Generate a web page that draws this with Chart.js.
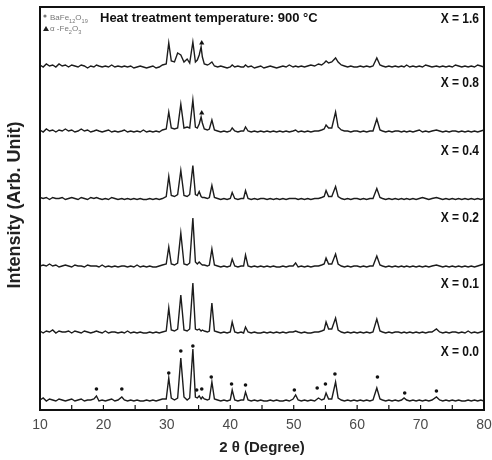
<!DOCTYPE html>
<html>
<head>
<meta charset="utf-8">
<script src="https://cdn.jsdelivr.net/npm/chart.js@4"></script>
<style>
  html, body { margin: 0; padding: 0; background: #fff; }
  #wrap { width: 492px; height: 460px; }
</style>
</head>
<body>
<div id="wrap"><canvas id="xrd" width="492" height="460"></canvas></div>
<script>
// 2-theta positions shared by all patterns (degree)
const twoTheta = [
  10,10.5,11,11.5,12,12.5,13,13.5,14,14.5,15,15.5,16,16.5,17,17.5,18,18.5,
  18.9,19.3,19.8,20.3,20.8,21.3,21.8,22.3,22.9,23.3,23.8,24.3,24.8,25.3,25.8,26.3,26.8,27.3,27.8,28.3,28.8,29.3,
  29.9,30.3,30.7,31.2,31.7,32.2,32.7,33.2,33.6,34.1,34.5,34.8,35.1,35.4,35.6,35.9,36.4,36.7,37.1,37.5,
  38,38.5,39,39.5,40,40.3,40.7,41.2,41.7,42.1,42.4,42.8,43.3,43.8,44.3,44.8,45.3,45.8,46.3,46.8,47.3,47.8,48.3,48.8,49.3,
  49.9,50.3,50.7,51.2,51.7,52.2,52.7,53.3,53.9,54.4,54.8,55.1,55.5,56.0,56.6,57.0,57.5,58,58.5,59,59.5,
  60,60.5,61,61.5,62,62.5,63.1,63.6,64,64.5,65,65.5,66,66.5,67,67.4,67.8,68.3,68.8,69.3,69.8,70.3,70.8,71.3,71.8,72.5,73,73.5,74,74.5,75,75.5,76,76.5,77,77.5,78,78.5,79,79.5,80
];
const xTickLabels = [10, 20, 30, 40, 50, 60, 70, 80];

const sampleLabels = ['X = 0.0', 'X = 0.1', 'X = 0.2', 'X = 0.4', 'X = 0.8', 'X = 1.6'];
// vertical offset of each pattern (arb. unit)
const sampleOffsets = [8, 76, 142, 209.5, 277, 341];

// intensities above each baseline (arb. unit)
const intensityX00 = [
  2,4,1,3,2,1,3,2,1,2,3,1,2,3,1,2,2,3,
  6,1,2,1,2,3,1,2,5,2,1,2,1,2,1,1,2,1,2,1,2,3,
  3,24,4,2,4,44,5,2,4,53,5,4,6,3,5,3,2,3,20,3,
  2,1,2,1,2,12,2,1,2,2,10,2,1,2,1,2,1,1,2,1,2,1,1,2,1,
  3,7,2,1,2,1,2,1,4,2,3,9,3,3,20,4,2,1,2,1,2,
  1,2,1,2,1,2,14,3,2,1,2,1,2,1,2,4,2,1,2,1,2,1,2,1,2,5,2,1,2,1,2,1,2,1,1,2,1,2,1,2,1
];
const intensityX01 = [
  3,1,3,2,4,1,3,2,2,3,1,3,2,1,3,2,1,2,
  3,2,1,3,1,2,2,1,2,1,3,1,2,1,2,1,1,2,1,2,1,2,
  3,26,4,3,5,39,4,3,5,51,5,4,5,3,4,3,2,3,31,3,
  2,1,2,1,2,12,2,1,2,1,7,2,1,2,1,1,2,1,2,1,2,1,2,1,2,
  2,3,2,1,2,1,1,2,2,3,4,12,5,5,16,4,2,1,2,1,2,
  1,2,1,2,1,2,15,3,2,1,2,1,2,2,1,2,1,2,1,2,1,2,1,2,2,5,2,1,2,1,2,2,1,2,1,3,1,2,1,2,3
];
const intensityX02 = [
  2,3,2,4,2,3,1,2,3,2,1,3,2,2,1,3,2,2,
  2,1,3,1,2,1,2,1,2,2,1,2,1,3,1,2,1,2,1,1,2,3,
  4,21,4,3,5,35,4,3,5,50,6,4,6,4,3,3,2,3,19,3,
  2,1,2,1,2,9,2,1,2,2,13,2,1,2,1,2,1,2,1,2,1,1,2,1,2,
  2,5,1,2,1,2,1,2,2,3,4,10,4,4,14,4,2,1,2,1,2,
  2,1,2,1,2,2,12,3,2,1,2,1,2,1,2,1,2,1,2,1,2,1,2,1,2,3,2,1,2,1,2,1,2,1,2,1,2,1,2,3,4
];
const intensityX04 = [
  3,2,3,1,3,2,2,3,1,2,3,2,1,3,2,1,3,2,
  3,2,1,2,1,3,2,1,2,1,2,1,2,1,2,1,1,2,1,2,1,2,
  4,24,5,4,6,30,5,4,6,35,6,5,9,4,3,3,2,3,15,3,
  2,1,2,1,2,8,2,1,2,2,10,2,1,2,1,2,2,1,2,1,2,1,2,1,2,
  2,2,1,2,1,2,1,2,2,3,4,10,4,4,14,4,2,1,2,1,2,
  2,1,2,1,2,2,12,3,2,1,2,1,2,1,2,1,2,1,2,1,2,3,2,1,2,3,2,1,2,1,2,1,2,1,2,1,2,1,2,1,2
];
const intensityX08 = [
  3,1,4,2,3,1,3,2,4,2,3,1,2,4,2,3,1,2,
  3,2,1,2,3,1,2,1,2,3,1,2,1,2,1,3,1,2,1,2,1,3,
  4,21,5,4,5,29,5,6,5,33,6,5,9,16,10,4,3,4,13,3,
  2,1,2,1,2,5,2,1,2,2,6,2,1,2,1,2,1,2,1,2,1,2,1,2,1,
  2,3,1,2,1,2,1,2,2,3,4,8,5,5,21,6,3,2,2,1,2,
  2,1,2,1,2,2,14,3,2,1,2,1,2,2,1,2,1,2,1,2,3,1,2,1,2,3,2,1,2,1,2,2,1,2,1,2,1,2,1,2,3
];
const intensityX16 = [
  4,2,5,3,4,2,5,3,4,2,4,3,2,4,3,1,3,2,
  4,3,2,3,2,4,2,3,2,3,2,3,1,2,3,2,1,2,3,1,2,4,
  5,26,8,7,16,14,7,10,6,27,7,9,14,22,12,5,4,5,7,3,
  2,3,2,1,2,4,2,3,2,2,4,2,3,1,2,3,1,2,3,2,1,2,3,2,4,
  2,3,2,3,2,3,4,3,5,4,6,8,6,7,11,7,4,3,2,3,2,
  2,3,2,3,2,3,11,4,3,2,3,2,3,2,3,2,4,2,3,2,3,2,4,3,2,3,2,3,2,3,2,4,3,2,3,2,3,2,4,3,2
];
const allIntensities = [intensityX00, intensityX01, intensityX02, intensityX04, intensityX08, intensityX16];

// BaFe12O19 markers over the X = 0.0 pattern
const ferriteAngles = [18.9, 22.9, 30.3, 32.2, 34.1, 34.7, 35.5, 37.0, 40.2, 42.4, 50.1, 53.7, 55.0, 56.5, 63.2, 67.5, 72.5];
const ferriteLevels = [13, 13, 29, 51, 56, 12, 13, 25, 18, 17, 12, 14, 18, 28, 25, 9, 11];
// alpha-Fe2O3 markers (sample index, angle, level above baseline)
const hematiteSamples = [4, 5];
const hematiteAngles = [35.5, 35.5];
const hematiteLevels = [20, 26];

const datasets = allIntensities.map((vals, s) => ({
  label: sampleLabels[s],
  data: twoTheta.map((t, i) => ({ x: t, y: sampleOffsets[s] + vals[i] })),
  borderColor: '#1c1c1c',
  borderWidth: 1.4,
  pointRadius: 0,
  tension: 0,
  order: 2
}));
datasets.push({
  label: 'BaFe12O19',
  type: 'scatter',
  data: ferriteAngles.map((a, i) => ({ x: a, y: sampleOffsets[0] + ferriteLevels[i] })),
  pointStyle: 'circle',
  pointRadius: 1.8,
  backgroundColor: '#111',
  borderColor: '#111',
  borderWidth: 0,
  order: 1
});
datasets.push({
  label: 'a-Fe2O3',
  type: 'scatter',
  data: hematiteAngles.map((a, i) => ({ x: a, y: sampleOffsets[hematiteSamples[i]] + hematiteLevels[i] })),
  pointStyle: 'triangle',
  pointRadius: 3,
  backgroundColor: '#111',
  borderColor: '#111',
  borderWidth: 0,
  order: 1
});

// draws text pieces, some lowered as subscripts
function subText(ctx, parts, x, y, size) {
  parts.forEach(p => {
    const sub = p[1];
    ctx.font = (sub ? size * 0.7 : size) + 'px "Liberation Sans", Arial, sans-serif';
    ctx.fillText(p[0], x, y + (sub ? size * 0.35 : 0));
    x += ctx.measureText(p[0]).width;
  });
}

const decorations = {
  id: 'decorations',
  afterDraw(chart) {
    const ctx = chart.ctx;
    const a = chart.chartArea;
    const xs = chart.scales.x, ys = chart.scales.y;
    ctx.save();

    // inward ticks every 5 degrees
    ctx.strokeStyle = '#111';
    ctx.lineWidth = 1.2;
    for (let t = 15; t < 80; t += 5) {
      const px = xs.getPixelForValue(t);
      ctx.beginPath();
      ctx.moveTo(px, a.bottom);
      ctx.lineTo(px, a.bottom - 5);
      ctx.stroke();
    }
    // frame
    ctx.lineWidth = 2;
    ctx.strokeRect(a.left, a.top, a.right - a.left, a.bottom - a.top);

    // x tick labels
    ctx.fillStyle = '#4a4a4a';
    ctx.textAlign = 'center';
    ctx.textBaseline = 'middle';
    ctx.font = '14px "Liberation Sans", Arial, sans-serif';
    xTickLabels.forEach(v => ctx.fillText(String(v), xs.getPixelForValue(v), a.bottom + 15));

    // sample labels (condensed bold)
    ctx.fillStyle = '#111';
    ctx.textAlign = 'right';
    ctx.font = 'bold 15px "Liberation Sans", Arial, sans-serif';
    sampleLabels.forEach((lab, s) => {
      ctx.save();
      ctx.translate(a.right - 5, ys.getPixelForValue(sampleOffsets[s] + 50));
      ctx.scale(0.8, 1);
      ctx.fillText(lab, 0, 0);
      ctx.restore();
    });

    // heading
    ctx.textAlign = 'left';
    ctx.font = 'bold 13px "Liberation Sans", Arial, sans-serif';
    ctx.fillText('Heat treatment temperature: 900 \u00B0C', 100, 18);

    // x title
    ctx.fillStyle = '#222';
    ctx.textAlign = 'center';
    ctx.font = 'bold 15px "Liberation Sans", Arial, sans-serif';
    ctx.fillText('2 \u03B8 (Degree)', (a.left + a.right) / 2, 448);

    // phase legend
    ctx.fillStyle = '#777';
    ctx.textAlign = 'left';
    ctx.textBaseline = 'alphabetic';
    ctx.beginPath();
    ctx.arc(45, 16, 1.6, 0, Math.PI * 2);
    ctx.fill();
    subText(ctx, [['BaFe', 0], ['12', 1], ['O', 0], ['19', 1]], 50, 20, 8);
    ctx.fillStyle = '#222';
    ctx.beginPath();
    ctx.moveTo(43, 31); ctx.lineTo(46, 26); ctx.lineTo(49, 31); ctx.closePath();
    ctx.fill();
    ctx.fillStyle = '#777';
    subText(ctx, [['\u03B1 -Fe', 0], ['2', 1], ['O', 0], ['3', 1]], 50, 31, 8);

    // y title
    ctx.fillStyle = '#222';
    ctx.translate(15, 205);
    ctx.rotate(-Math.PI / 2);
    ctx.textAlign = 'center';
    ctx.textBaseline = 'middle';
    ctx.font = 'bold 18px "Liberation Sans", Arial, sans-serif';
    ctx.fillText('Intensity (Arb. Unit)', 0, 0);
    ctx.restore();
  }
};

new Chart(document.getElementById('xrd'), {
  type: 'line',
  data: { datasets: datasets },
  options: {
    responsive: false,
    animation: false,
    layout: { padding: { left: 40, right: 8, top: 7, bottom: 50 } },
    plugins: { legend: { display: false }, tooltip: { enabled: false } },
    scales: {
      x: { type: 'linear', display: false, min: 10, max: 80 },
      y: { display: false, min: 0, max: 403 }
    }
  },
  plugins: [decorations]
});
</script>
</body>
</html>
